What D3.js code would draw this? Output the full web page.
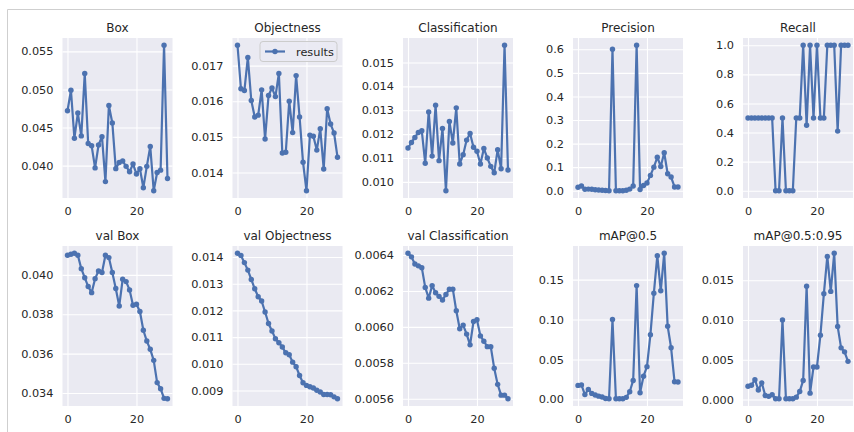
<!DOCTYPE html>
<html>
<head>
<meta charset="utf-8">
<script src="https://cdn.jsdelivr.net/npm/d3@7"></script>
<style>
	body { margin: 0; background: #fff; }
	svg { display: block; font-family: "DejaVu Sans", sans-serif; }
</style>
</head>
<body>
<svg width="854" height="432"></svg>
<script>
var epochs = [0, 1, 2, 3, 4, 5, 6, 7, 8, 9, 10, 11, 12, 13, 14, 15, 16, 17, 18, 19, 20, 21, 22, 23, 24, 25, 26, 27, 28, 29];
var xTicks = [0, 20];

var titles = ["Box", "Objectness", "Classification", "Precision", "Recall",
	"val Box", "val Objectness", "val Classification", "mAP@0.5", "mAP@0.5:0.95"];

var box = [0.0472, 0.0499, 0.0436, 0.0469, 0.0439, 0.0521, 0.0429, 0.0426, 0.0397, 0.0427, 0.0438, 0.0379, 0.0479, 0.0456, 0.0396,
	0.0404, 0.0406, 0.0399, 0.0392, 0.0402, 0.0389, 0.0396, 0.0371, 0.0399, 0.0425, 0.0367, 0.0391, 0.0394, 0.0558, 0.0383];
var objectness = [0.01757, 0.01635, 0.0163, 0.01723, 0.01602, 0.01556, 0.01561, 0.01632, 0.01494, 0.01616, 0.01637, 0.01613, 0.01678, 0.01455, 0.01457,
	0.0160, 0.01512, 0.01672, 0.01556, 0.01429, 0.01349, 0.01505, 0.01502, 0.01463, 0.01523, 0.01410, 0.01579, 0.01536, 0.01511, 0.01443];
var classification = [0.01142, 0.01165, 0.01186, 0.01207, 0.01214, 0.01078, 0.01293, 0.01108, 0.01321, 0.01089, 0.01224, 0.00963, 0.01253, 0.01163, 0.0131,
	0.01075, 0.01114, 0.01175, 0.01203, 0.01145, 0.01128, 0.01075, 0.0114, 0.011, 0.01065, 0.01038, 0.01135, 0.01055, 0.01572, 0.0105];
var precision = [0.015, 0.02, 0.006, 0.007, 0.006, 0.004, 0.003, 0.002, 0.001, 0.0, 0.6, 0.0, 0.0, 0.0, 0.002,
	0.007, 0.02, 0.617, 0.005, 0.022, 0.033, 0.065, 0.10, 0.142, 0.103, 0.161, 0.072, 0.058, 0.016, 0.016];
var recall = [0.5, 0.5, 0.5, 0.5, 0.5, 0.5, 0.5, 0.5, 0, 0, 0.5, 0, 0, 0, 0.5,
	0.5, 1, 0.45, 1, 0.5, 1, 0.5, 0.5, 1, 1, 1, 0.41, 1, 1, 1];
var valBox = [0.0410, 0.04105, 0.0411, 0.0410, 0.04032, 0.03986, 0.03941, 0.0391, 0.03981, 0.0402, 0.04012, 0.0410, 0.04088, 0.04012, 0.03931,
	0.03842, 0.03978, 0.03966, 0.03924, 0.03846, 0.03851, 0.03814, 0.03719, 0.03664, 0.03622, 0.03566, 0.03453, 0.03422, 0.03373, 0.03371];
var valObjectness = [0.01414, 0.01406, 0.01379, 0.01351, 0.01316, 0.01281, 0.01251, 0.01235, 0.01194, 0.01151, 0.01123, 0.01094, 0.01079, 0.01063, 0.01041,
	0.01034, 0.01006, 0.00989, 0.00956, 0.00929, 0.00919, 0.00914, 0.00909, 0.00901, 0.00894, 0.00885, 0.00885, 0.00884, 0.00876, 0.00869];
var valClassification = [0.00641, 0.00639, 0.00635, 0.00634, 0.00633, 0.00622, 0.00616, 0.00623, 0.00619, 0.00617, 0.00615, 0.00618, 0.00621, 0.00621, 0.00609,
	0.00599, 0.00601, 0.00596, 0.0059, 0.00603, 0.00604, 0.00595, 0.00592, 0.00589, 0.00589, 0.00577, 0.00568, 0.00562, 0.00562, 0.0056];
var map50 = [0.0175, 0.018, 0.006, 0.0125, 0.0075, 0.0054, 0.004, 0.003, 0.001, 0.0008, 0.100, 0.0008, 0.0008, 0.0008, 0.0025,
	0.0096, 0.0237, 0.1425, 0.0083, 0.029, 0.041, 0.081, 0.133, 0.180, 0.136, 0.183, 0.0917, 0.0646, 0.022, 0.0217];
var map5095 = [0.00167, 0.0018, 0.0025, 0.0012, 0.0021, 0.0005, 0.0004, 0.0006, 0.0001, 0.0001, 0.0100, 0.0001, 0.0001, 0.0001, 0.0003,
	0.001, 0.0024, 0.01425, 0.0008, 0.0041, 0.0041, 0.0081, 0.0133, 0.0180, 0.0136, 0.0184, 0.0092, 0.0065, 0.006, 0.0048];

var yTicks = [
	[0.040, 0.045, 0.050, 0.055],
	[0.014, 0.015, 0.016, 0.017],
	[0.010, 0.011, 0.012, 0.013, 0.014, 0.015],
	[0, 0.1, 0.2, 0.3, 0.4, 0.5, 0.6],
	[0, 0.2, 0.4, 0.6, 0.8, 1.0],
	[0.034, 0.036, 0.038, 0.040],
	[0.009, 0.010, 0.011, 0.012, 0.013, 0.014],
	[0.0056, 0.0058, 0.0060, 0.0062, 0.0064],
	[0, 0.05, 0.10, 0.15],
	[0, 0.005, 0.010, 0.015]
];
var yFormats = [".3f", ".3f", ".3f", ".1f", ".1f", ".3f", ".3f", ".4f", ".2f", ".3f"];
var series = [box, objectness, classification, precision, recall,
	valBox, valObjectness, valClassification, map50, map5095];

var svg = d3.select("svg"),
	width = +svg.attr("width"),
	height = +svg.attr("height");

var blue = "#4c72b0",
	ink = "#262626";
var colLeft = [62.5, 232.5, 403, 573, 743],
	rowTop = [38, 246],
	pw = 110,
	ph = 160;

// matplotlib style 5% margins
function pad(ext) {
	var m = (ext[1] - ext[0]) * 0.05;
	return [ext[0] - m, ext[1] + m];
}

// screenshot frame
svg.append("path")
	.attr("d", "M7.5," + height + "V9.5H" + width)
	.attr("fill", "none")
	.attr("stroke", "#cfcfcf");

series.forEach(function (values, i) {
	var g = svg.append("g")
		.attr("transform", "translate(" + colLeft[i % 5] + "," + rowTop[Math.floor(i / 5)] + ")");

	var x = d3.scaleLinear().domain(pad(d3.extent(epochs))).range([0, pw]);
	var y = d3.scaleLinear().domain(pad(d3.extent(values))).range([ph, 0]);

	g.append("rect")
		.attr("width", pw)
		.attr("height", ph)
		.attr("fill", "#eaeaf2");

	var ya = g.append("g")
		.call(d3.axisLeft(y).tickValues(yTicks[i]).tickSize(-pw).tickPadding(9).tickFormat(d3.format(yFormats[i])));
	var xa = g.append("g")
		.attr("transform", "translate(0," + ph + ")")
		.call(d3.axisBottom(x).tickValues(xTicks).tickSize(-ph).tickPadding(9));

	[ya, xa].forEach(function (a) {
		a.select(".domain").remove();
		a.selectAll(".tick line").attr("stroke", "#fff").attr("stroke-width", 1.1);
		a.selectAll(".tick text")
			.attr("fill", ink)
			.style("font-size", "11.3px")
			.style("font-family", "'DejaVu Sans', sans-serif");
	});

	g.append("text")
		.attr("x", pw / 2)
		.attr("y", -6.5)
		.attr("text-anchor", "middle")
		.attr("fill", ink)
		.style("font-size", "12px")
		.text(titles[i]);

	var line = d3.line()
		.x(function (d, j) { return x(epochs[j]); })
		.y(function (d) { return y(d); });

	g.append("path")
		.datum(values)
		.attr("d", line)
		.attr("fill", "none")
		.attr("stroke", blue)
		.attr("stroke-width", 2.2)
		.attr("stroke-linejoin", "round");

	g.selectAll("circle")
		.data(values)
		.enter().append("circle")
		.attr("cx", function (d, j) { return x(epochs[j]); })
		.attr("cy", function (d) { return y(d); })
		.attr("r", 2.7)
		.attr("fill", blue);

	// legend only on the Objectness panel
	if (i === 1) {
		var lg = g.append("g").attr("transform", "translate(27.5,3.5)");
		lg.append("rect")
			.attr("width", 77)
			.attr("height", 20)
			.attr("rx", 3)
			.attr("fill", "#eaeaf2")
			.attr("fill-opacity", 0.8)
			.attr("stroke", "#cccccc");
		lg.append("line")
			.attr("x1", 5).attr("x2", 25)
			.attr("y1", 10).attr("y2", 10)
			.attr("stroke", blue)
			.attr("stroke-width", 2.2);
		lg.append("circle")
			.attr("cx", 15).attr("cy", 10)
			.attr("r", 2.7)
			.attr("fill", blue);
		lg.append("text")
			.attr("x", 36)
			.attr("y", 14)
			.attr("fill", ink)
			.style("font-size", "11.3px")
			.text("results");
	}
});
</script>
</body>
</html>
